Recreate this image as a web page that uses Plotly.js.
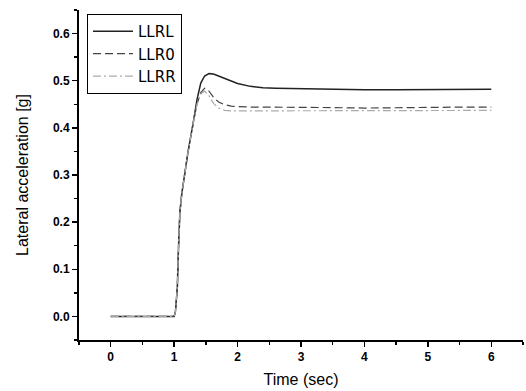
<!DOCTYPE html>
<html><head><meta charset="utf-8">
<script src="https://cdn.plot.ly/plotly-3.0.1.min.js"></script>
<style>html,body{margin:0;padding:0;background:#fff}#chart{width:526px;height:391px}</style>
</head><body><div id="chart"></div>
<script>
const time = [0, 0.5, 1.0, 1.02, 1.05, 1.07, 1.09, 1.12, 1.16, 1.22, 1.3, 1.36, 1.42, 1.48, 1.55, 1.62, 1.7, 1.8, 1.9, 2.0, 2.2, 2.4, 2.6, 3.0, 3.5, 4.0, 4.5, 5.0, 5.5, 6.0];
const llrl = [0, 0, 0, 0.01, 0.06, 0.15, 0.22, 0.26, 0.30, 0.35, 0.41, 0.46, 0.495, 0.51, 0.515, 0.514, 0.51, 0.505, 0.499, 0.494, 0.488, 0.485, 0.484, 0.483, 0.482, 0.481, 0.481, 0.481, 0.481, 0.482];
const llr0 = [0, 0, 0, 0.01, 0.06, 0.15, 0.22, 0.26, 0.30, 0.35, 0.41, 0.45, 0.475, 0.484, 0.478, 0.465, 0.455, 0.449, 0.446, 0.445, 0.444, 0.444, 0.444, 0.444, 0.443, 0.442, 0.443, 0.443, 0.444, 0.444];
const llrr = [0, 0, 0, 0.01, 0.06, 0.15, 0.22, 0.26, 0.30, 0.35, 0.41, 0.45, 0.472, 0.478, 0.468, 0.452, 0.442, 0.437, 0.436, 0.436, 0.436, 0.436, 0.436, 0.436, 0.436, 0.436, 0.436, 0.436, 0.437, 0.437];
const names = ['LLRL', 'LLR0', 'LLRR'];

const traces = [
  {x: time, y: llrl, name: names[0], mode: 'lines', line: {color: '#222', width: 1.5, dash: 'solid'}},
  {x: time, y: llr0, name: names[1], mode: 'lines', line: {color: '#444', width: 1.2, dash: '8px,4px'}},
  {x: time, y: llrr, name: names[2], mode: 'lines', line: {color: '#aaa', width: 1.2, dash: '8px,3px,2px,3px'}}
];
const fam = 'Liberation Sans, Arial, sans-serif';
const axisFont = {family: fam, size: 12, color: '#000', weight: 'bold'};
const layout = {
  width: 526, height: 391,
  margin: {l: 79, r: 3, t: 10, b: 51},
  paper_bgcolor: '#fff', plot_bgcolor: '#fff',
  showlegend: true,
  legend: {x: 0.018, y: 0.988, xanchor: 'left', yanchor: 'top', bordercolor: '#000', borderwidth: 1,
    bgcolor: '#fff', font: {family: 'DejaVu Sans, sans-serif', size: 15, color: '#000'},
    tracegroupgap: 0, itemwidth: 40},
  xaxis: {
    range: [-0.5, 6.5], tickvals: [0,1,2,3,4,5,6], ticks: 'outside', ticklen: 5, tickwidth: 1.5, tickcolor: '#000',
    showline: true, linecolor: '#000', linewidth: 2, showgrid: false, zeroline: false,
    tickfont: axisFont,
    minor: {dtick: 0.5, tick0: 0, ticks: 'outside', ticklen: 3, tickcolor: '#000', tickwidth: 1.5},
    title: {text: 'Time (sec)', font: {family: fam, size: 16, color: '#000'}, standoff: 10}
  },
  yaxis: {
    range: [-0.05, 0.65], tickvals: [0, 0.1, 0.2, 0.3, 0.4, 0.5, 0.6], tickformat: '.1f',
    ticks: 'outside', ticklen: 5, tickwidth: 1.5, tickcolor: '#000',
    showline: true, linecolor: '#000', linewidth: 2, showgrid: false, zeroline: false,
    tickfont: axisFont,
    minor: {dtick: 0.05, tick0: 0, ticks: 'outside', ticklen: 3, tickcolor: '#000', tickwidth: 1.5},
    title: {text: 'Lateral acceleration [g]', font: {family: fam, size: 16, color: '#000'}, standoff: 20}
  }
};
Plotly.newPlot('chart', traces, layout, {displayModeBar: false, staticPlot: true});
</script></body></html>
